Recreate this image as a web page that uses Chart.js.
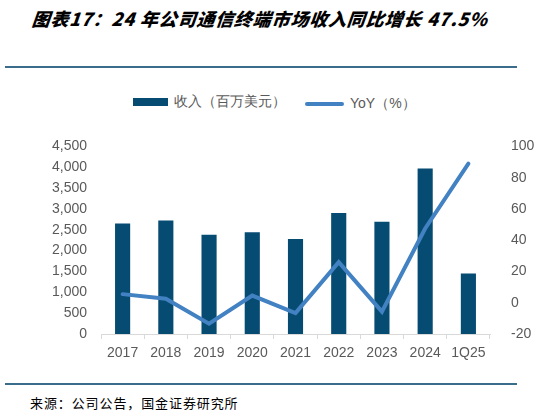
<!DOCTYPE html>
<html><head><meta charset="utf-8">
<script src="https://cdn.jsdelivr.net/npm/chart.js@4"></script>
<style>
html,body{margin:0;padding:0;background:#fff;width:559px;height:416px;overflow:hidden;font-family:"Liberation Sans",Arial,sans-serif;}
#title{position:absolute;left:32px;top:5px;white-space:nowrap;font-family:"Noto Sans CJK SC",sans-serif;font-weight:900;font-style:italic;font-size:18px;color:#000;letter-spacing:0.8px;transform:skewX(-6deg);transform-origin:0 50%;}
.rule{position:absolute;left:5px;width:512px;height:2px;background:#3a6d8c;}
#legend{position:absolute;top:93px;left:133px;white-space:nowrap;font-size:14px;color:#595959;}
#legend span.item{display:inline-flex;align-items:center;}
#legend i{display:inline-block;margin-right:6px;}
#src{position:absolute;left:30px;top:393px;font-family:"Noto Sans CJK SC",sans-serif;font-size:13px;letter-spacing:0.9px;color:#000;}
#wrap{position:absolute;left:0;top:125px;width:559px;height:250px;}
</style></head>
<body>
<div id="title">图表17：24 年公司通信终端市场收入同比增长 47.5%</div>
<div class="rule" style="top:66px"></div>
<div id="legend"><span class="item" style="margin-right:19px"><i style="width:35px;height:8px;background:#064b72"></i>收入（百万美元）</span><span class="item"><i style="width:39px;height:4px;border-radius:2px;background:#4281c2"></i>YoY（%）</span></div>
<div id="wrap"><canvas id="c" width="559" height="250"></canvas></div>
<div class="rule" style="top:383px"></div>
<div id="src">来源：公司公告，国金证券研究所</div>
<script>
const categories = ["2017","2018","2019","2020","2021","2022","2023","2024","1Q25"];
const revenue = [2650, 2720, 2380, 2440, 2280, 2900, 2690, 3970, 1450];
const yoy = [5.5, 2.6, -13.4, 4.6, -6.6, 26, -5.7, 47.5, 89];
const leftTicks = [0,500,1000,1500,2000,2500,3000,3500,4000,4500];
const rightTicks = [-20,0,20,40,60,80,100];

const tickFont = {family:"'Liberation Sans', Arial, sans-serif", size:14};
const tickColor = "#595959";
new Chart(document.getElementById('c'), {
  type:'bar',
  data:{
    labels:categories,
    datasets:[
      {type:'line', label:'YoY（%）', data:yoy, yAxisID:'y1', borderColor:'#4281c2', backgroundColor:'#4281c2', borderWidth:4, pointRadius:0, tension:0, order:0, borderCapStyle:'round', borderJoinStyle:'miter'},
      {type:'bar', label:'收入（百万美元）', data:revenue, yAxisID:'y', backgroundColor:'#064b72', categoryPercentage:1, barPercentage:0.35, order:1}
    ]
  },
  options:{
    responsive:false, animation:false, devicePixelRatio:1,
    layout:{padding:{top:14,left:0,right:0,bottom:0}},
    plugins:{legend:{display:false}, tooltip:{enabled:false}},
    scales:{
      x:{
        grid:{display:true, drawOnChartArea:false, offset:true, tickLength:5, color:'#d9d9d9'},
        border:{display:true, color:'#d9d9d9', width:1},
        ticks:{font:tickFont, color:tickColor, padding:6, maxRotation:0},
        afterFit:(s)=>{s.height=41;}
      },
      y:{
        position:'left', min:0, max:4500,
        grid:{display:false}, border:{display:false},
        afterBuildTicks:(s)=>{s.ticks=leftTicks.map(v=>({value:v}));},
        ticks:{font:tickFont, color:tickColor, padding:6, callback:(v)=>v.toLocaleString('en-US')},
        afterFit:(s)=>{s.width=101;}
      },
      y1:{
        position:'right', min:-20, max:100,
        grid:{display:false}, border:{display:false},
        afterBuildTicks:(s)=>{s.ticks=rightTicks.map(v=>({value:v}));},
        ticks:{font:tickFont, color:tickColor, padding:13},
        afterFit:(s)=>{s.width=69;}
      }
    }
  }
});
</script>
</body></html>
